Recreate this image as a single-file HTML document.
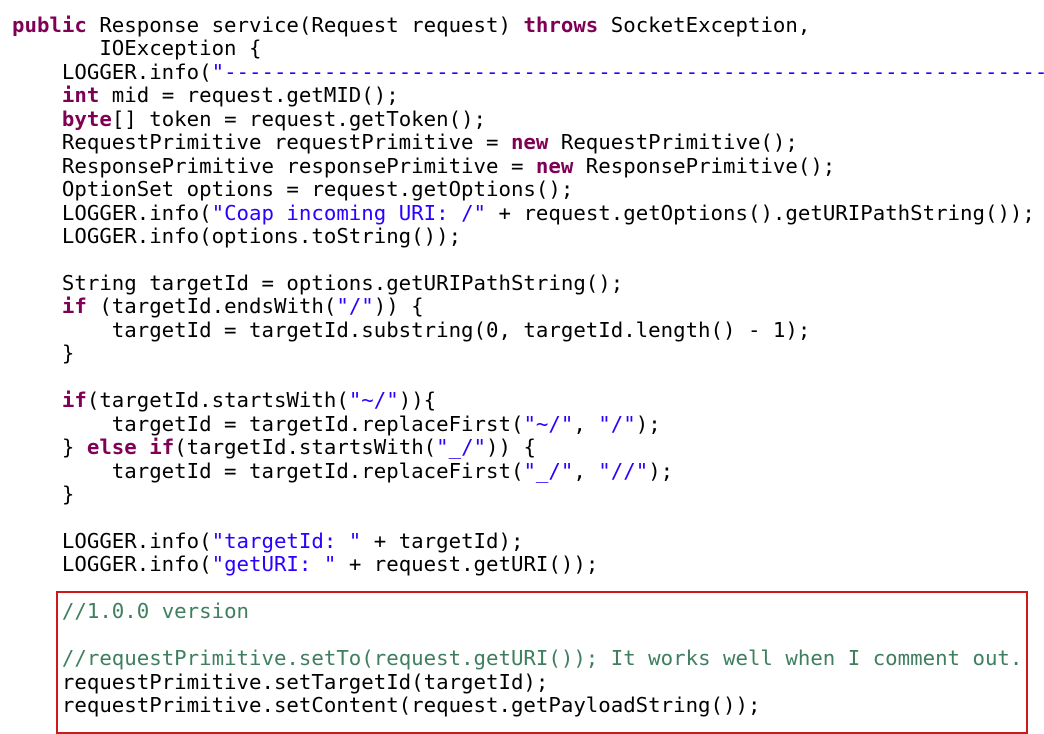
<!DOCTYPE html>
<html><head><meta charset="utf-8"><style>
html,body{margin:0;padding:0;background:#fff;width:1044px;height:734px;overflow:hidden}
pre{position:absolute;left:12px;top:14px;margin:0;font-family:"DejaVu Sans Mono","Liberation Mono",monospace;font-size:20.72px;line-height:23.45px;color:#000;white-space:pre}
.k{color:#7f0055;font-weight:bold}
.s{color:#2a00ff}
.c{color:#3f7f5f}
.box{position:absolute;left:56px;top:591px;width:968px;height:139px;border:2px solid #cc1a1a}
</style></head><body>
<pre><span class="k">public</span> Response service(Request request) <span class="k">throws</span> SocketException,
       IOException {
    LOGGER.info(<span class="s">"--------------------------------------------------------------------</span>
    <span class="k">int</span> mid = request.getMID();
    <span class="k">byte</span>[] token = request.getToken();
    RequestPrimitive requestPrimitive = <span class="k">new</span> RequestPrimitive();
    ResponsePrimitive responsePrimitive = <span class="k">new</span> ResponsePrimitive();
    OptionSet options = request.getOptions();
    LOGGER.info(<span class="s">"Coap incoming URI: /"</span> + request.getOptions().getURIPathString());
    LOGGER.info(options.toString());

    String targetId = options.getURIPathString();
    <span class="k">if</span> (targetId.endsWith(<span class="s">"/"</span>)) {
        targetId = targetId.substring(0, targetId.length() - 1);
    }

    <span class="k">if</span>(targetId.startsWith(<span class="s">"~/"</span>)){
        targetId = targetId.replaceFirst(<span class="s">"~/"</span>, <span class="s">"/"</span>);
    } <span class="k">else</span> <span class="k">if</span>(targetId.startsWith(<span class="s">"_/"</span>)) {
        targetId = targetId.replaceFirst(<span class="s">"_/"</span>, <span class="s">"//"</span>);
    }

    LOGGER.info(<span class="s">"targetId: "</span> + targetId);
    LOGGER.info(<span class="s">"getURI: "</span> + request.getURI());

    <span class="c">//1.0.0 version</span>

    <span class="c">//requestPrimitive.setTo(request.getURI()); It works well when I comment out.</span>
    requestPrimitive.setTargetId(targetId);
    requestPrimitive.setContent(request.getPayloadString());</pre>
<div class="box"></div>
</body></html>
